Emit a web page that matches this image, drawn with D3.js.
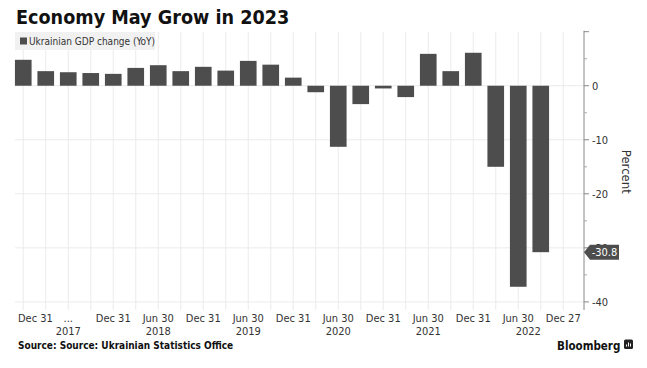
<!DOCTYPE html>
<html><head><meta charset="utf-8">
<script src="https://cdn.jsdelivr.net/npm/d3@7"></script>
<style>
html,body{margin:0;padding:0;background:#fff;}
svg{display:block;font-family:"DejaVu Sans Condensed","DejaVu Sans",sans-serif;}
</style></head>
<body>
<script>
// ---- data ----
const quarters = ["2016Q4","2017Q1","2017Q2","2017Q3","2017Q4","2018Q1","2018Q2","2018Q3","2018Q4",
  "2019Q1","2019Q2","2019Q3","2019Q4","2020Q1","2020Q2","2020Q3","2020Q4","2021Q1","2021Q2","2021Q3",
  "2021Q4","2022Q1","2022Q2","2022Q3"];
const gdpChange = [4.8,2.7,2.5,2.35,2.2,3.3,3.8,2.7,3.5,2.8,4.6,3.9,1.5,-1.2,-11.3,-3.4,-0.5,-2.1,5.9,2.7,6.1,-15.0,-37.2,-30.8];
const extraSlot = "2022-12-27";
const xTickSlots = ["2016Q4","2017Q2","2017Q4","2018Q2","2018Q4","2019Q2","2019Q4","2020Q2","2020Q4","2021Q2","2021Q4","2022Q2","2022-12-27"];
const xTickLabels = ["Dec 31","...","Dec 31","Jun 30","Dec 31","Jun 30","Dec 31","Jun 30","Dec 31","Jun 30","Dec 31","Jun 30","Dec 27"];
const yearSlots = ["2017Q2","2018Q2","2019Q2","2020Q2","2021Q2","2022Q2"];
const yearLabels = ["2017","2018","2019","2020","2021","2022"];
const yMajorTicks = [10,0,-10,-20,-30,-40];
const yTickLabels = ["","0","-10","-20","-30","-40"];
const yMinorTicks = [5,-5,-15,-25,-35];
const lastValueLabel = "-30.8";

(function () {
const W = 647, H = 368;
const pLeft = 12, pRight = 574.5, axisX = 584, pTop = 31.7, pBottom = 310;
const barColor = "#4d4d4d";

const svg = d3.select("body").append("svg").attr("width", W).attr("height", H);

const slots = quarters.concat([extraSlot]);
const x = d3.scaleBand().domain(slots).range([pLeft, pRight]).paddingInner(0.26).paddingOuter(0.13);
const y = d3.scaleLinear().domain([-41.5, 10]).range([pBottom, pTop]);
const cx = s => x(s) + x.bandwidth() / 2;

// gridlines
const grid = svg.append("g");
grid.selectAll("line.v").data(slots).join("line")
  .attr("x1", d => cx(d)).attr("x2", d => cx(d)).attr("y1", pTop).attr("y2", pBottom)
  .attr("stroke", "#ebebeb").attr("stroke-width", 1);
grid.selectAll("line.h").data([0,-10,-20,-30,-40]).join("line")
  .attr("x1", 15).attr("x2", axisX).attr("y1", d => y(d)).attr("y2", d => y(d))
  .attr("stroke", "#ebebeb").attr("stroke-width", 1);

// legend
svg.append("rect").attr("x", 15).attr("y", 32).attr("width", 140).attr("height", 18).attr("fill", "#f1f1f1");
svg.append("rect").attr("x", 20).attr("y", 37.5).attr("width", 7).attr("height", 7).attr("fill", barColor);
svg.append("text").attr("x", 29).attr("y", 45).attr("font-size", 10).attr("fill", "#333")
  .text("Ukrainian GDP change (YoY)");

// bars
svg.append("g").selectAll("rect").data(quarters).join("rect")
  .attr("x", d => x(d)).attr("width", x.bandwidth())
  .attr("y", (d, i) => y(Math.max(0, gdpChange[i])))
  .attr("height", (d, i) => Math.abs(y(gdpChange[i]) - y(0)))
  .attr("fill", barColor);

// y axis
const ya = svg.append("g");
ya.append("line").attr("x1", axisX).attr("x2", axisX).attr("y1", pTop - 1).attr("y2", pBottom).attr("stroke", "#888");
ya.selectAll("line.maj").data(yMajorTicks).join("line")
  .attr("x1", axisX).attr("x2", axisX + 5).attr("y1", d => y(d)).attr("y2", d => y(d)).attr("stroke", "#888");
ya.selectAll("line.min").data(yMinorTicks).join("line")
  .attr("x1", axisX).attr("x2", axisX + 3).attr("y1", d => y(d)).attr("y2", d => y(d)).attr("stroke", "#aaa");
ya.selectAll("text").data(yMajorTicks).join("text")
  .attr("x", axisX + 8).attr("y", d => y(d)).attr("dy", "0.35em")
  .attr("font-size", 11).attr("fill", "#333").text((d, i) => yTickLabels[i]);
svg.append("text").attr("transform", `translate(622,${(y(-20) + y(-10)) / 2 + 5}) rotate(90)`)
  .attr("text-anchor", "middle").attr("font-size", 13).attr("fill", "#333").text("Percent");

// last value callout
const lv = y(gdpChange[gdpChange.length - 1]);
const cg = svg.append("g");
cg.append("path").attr("d", `M${axisX},${lv} L${axisX + 6},${lv - 7.5} H${axisX + 35} V${lv + 7.5} H${axisX + 6} Z`).attr("fill", "#4d4d4d");
cg.append("text").attr("x", axisX + 20.5).attr("y", lv).attr("dy", "0.36em").attr("text-anchor", "middle")
  .attr("font-size", 11).attr("fill", "#fff").text(lastValueLabel);

// x axis labels
const xl = svg.append("g");
xl.selectAll("text").data(xTickSlots).join("text")
  .attr("x", d => cx(d)).attr("y", 322).attr("text-anchor", "middle")
  .attr("font-size", 11).attr("fill", "#333").text((d, i) => xTickLabels[i])
  .each(function () {
    const b = this.getBBox();
    if (b.x < 18) d3.select(this).attr("text-anchor", "start").attr("x", 18);
  });
svg.append("g").selectAll("text").data(yearSlots).join("text")
  .attr("x", (d, i) => cx(d) + (i === yearSlots.length - 1 ? 10 : 0)).attr("y", 335).attr("text-anchor", "middle")
  .attr("font-size", 11).attr("fill", "#333").text((d, i) => yearLabels[i]);

// title
svg.append("text").attr("x", 16).attr("y", 24).attr("font-size", 19.6).attr("font-weight", "bold")
  .attr("fill", "#111").text("Economy May Grow in 2023");

// source
svg.append("text").attr("x", 18).attr("y", 349).attr("font-size", 10).attr("font-weight", "bold")
  .attr("fill", "#111").text("Source: Source: Ukrainian Statistics Office");

// Bloomberg logo
svg.append("text").attr("x", 557).attr("y", 349.5).attr("font-size", 11.5).attr("font-weight", "bold")
  .attr("fill", "#111").text("Bloomberg");
svg.append("rect").attr("x", 624).attr("y", 339.5).attr("width", 9).attr("height", 9.5).attr("rx", 1.5).attr("fill", "#222");
svg.append("path").attr("d", "M626.5,346.5 v-2 M628.5,346.5 v-4 M630.5,346.5 v-3").attr("stroke", "#fff").attr("stroke-width", 1);
})();
</script>
</body></html>
